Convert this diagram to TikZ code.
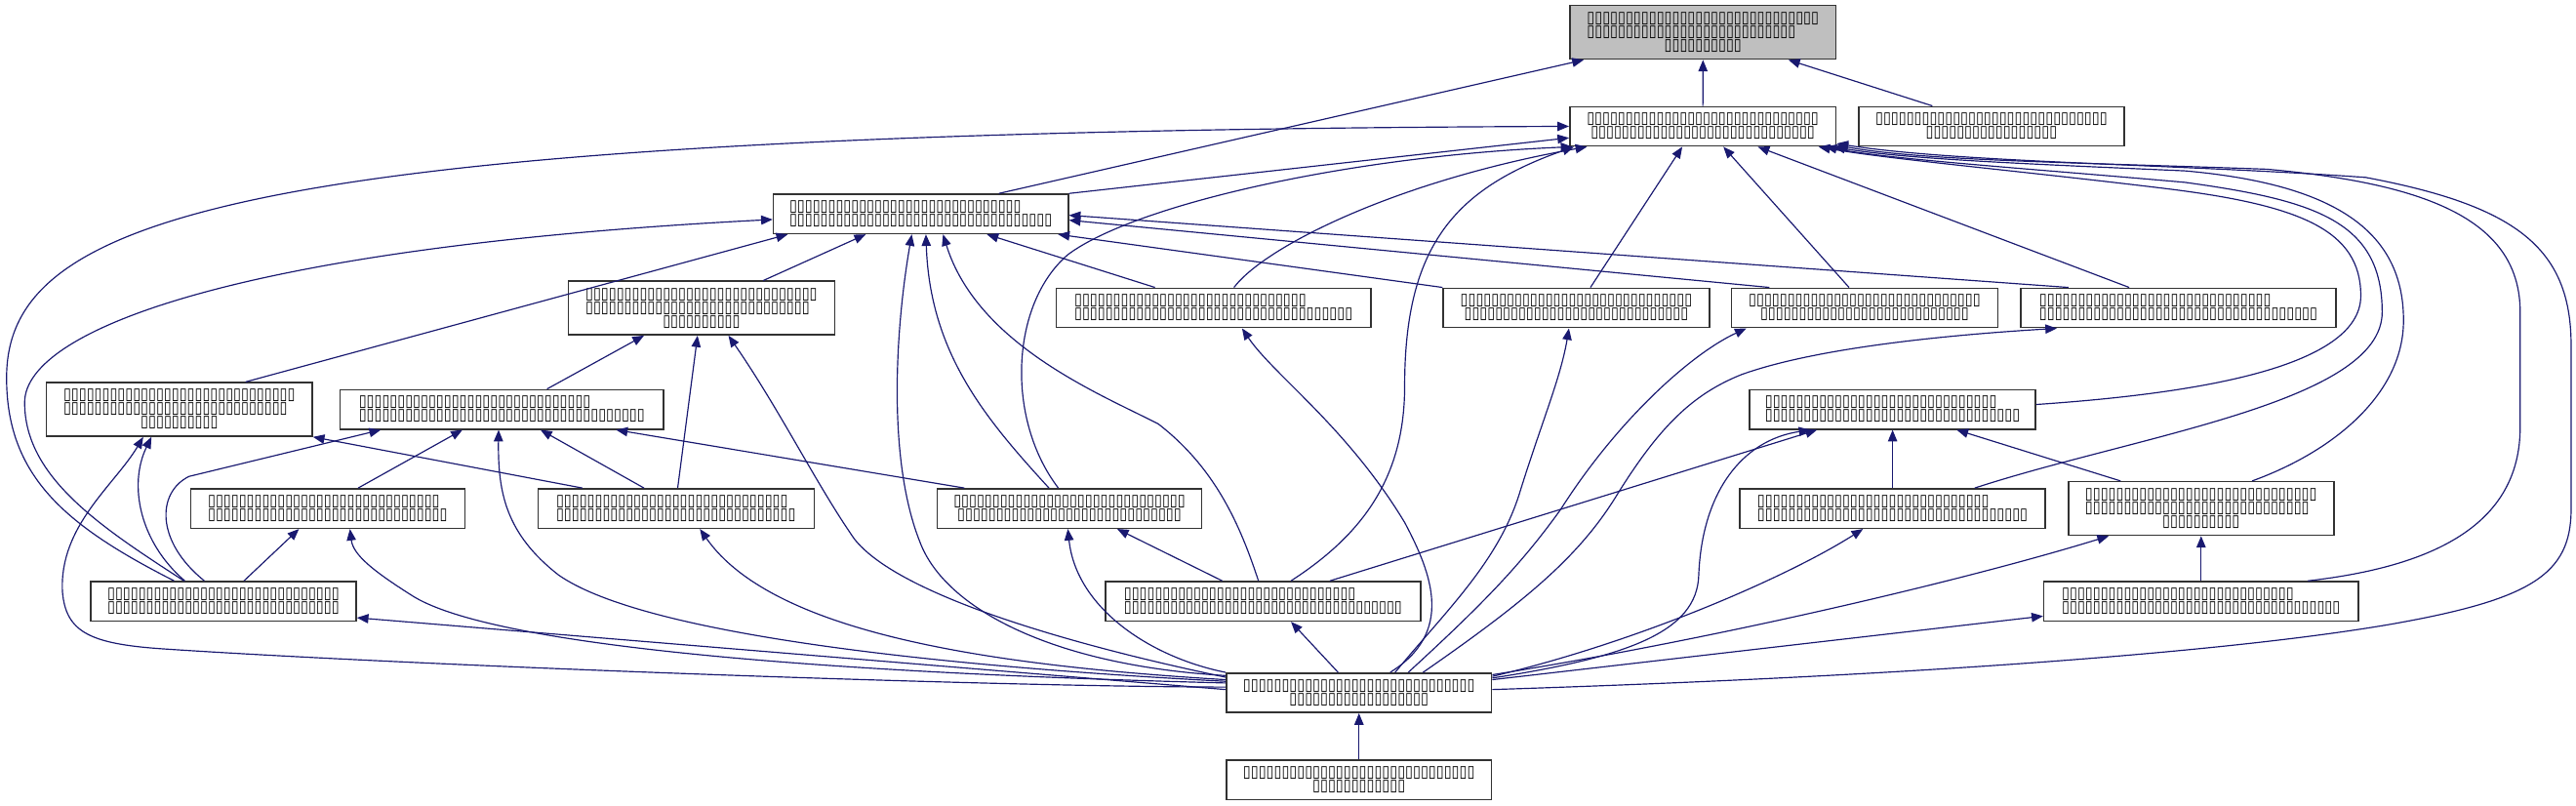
\documentclass[tikz,border=0pt]{standalone}
\usepackage{fontspec}
\newfontfamily\tofufont[FakeStretch=0.855]{DejaVu Sans}
\usetikzlibrary{arrows.meta}
\definecolor{AristaAzul}{RGB}{25,25,112}
\definecolor{BordeGris}{RGB}{50,50,50}
\definecolor{RaizGris}{RGB}{191,191,191}
\newcommand{\glyphs}[1]{\foreach \g in {1,...,#1}{▯}}
\newcommand{\gline}[2]{\glyphs{#1}\hphantom{\glyphs{#2}}}

\begin{document}
\begin{tikzpicture}[x=1pt, y=-1pt,
	caja/.style={draw=BordeGris, line width=0.9pt, fill=white, inner sep=0pt,
		minimum height=24pt, align=center,
		font=\tofufont\fontsize{10pt}{8.3pt}\selectfont},
	alta/.style={caja, minimum height=32.6pt},
	raiz/.style={alta, fill=RaizGris},
	arista/.style={AristaAzul, line width=0.7pt,
		-{Triangle[length=7pt, width=5.6pt]}}]

	\useasboundingbox (0,0) rectangle (1568,490);

	% archivos, de arriba abajo
	\node[raiz, minimum width=162pt] (a) at (1036.6,19.7) {\glyphs{30}\\\gline{27}{3}\\\glyphs{10}};
	\node[caja, minimum width=162pt] (b) at (1036.5,76.9) {\glyphs{30}\\\glyphs{29}};
	\node[caja, minimum width=161.5pt] (c) at (1212.2,76.9) {\glyphs{30}\\\glyphs{17}};
	\node[caja, minimum width=179.5pt] (d) at (560.5,130.2) {\gline{30}{4}\\\glyphs{34}};
	\node[alta, minimum width=162pt] (e) at (427,187.5) {\glyphs{30}\\\gline{29}{1}\\\glyphs{10}};
	\node[caja, minimum width=191.5pt] (f) at (738.7,187.4) {\gline{30}{6}\\\glyphs{36}};
	\node[caja, minimum width=162pt] (g) at (959.5,187.4) {\glyphs{30}\\\glyphs{29}};
	\node[caja, minimum width=162pt] (h) at (1135,187.4) {\glyphs{30}\\\glyphs{27}};
	\node[caja, minimum width=192pt] (i) at (1326,187.4) {\gline{30}{6}\\\glyphs{36}};
	\node[alta, minimum width=161.7pt] (j) at (109.2,249.2) {\glyphs{30}\\\gline{29}{1}\\\glyphs{10}};
	\node[caja, minimum width=197pt] (k) at (305.5,249.2) {\gline{30}{7}\\\glyphs{37}};
	\node[caja, minimum width=174pt] (l) at (1152,249.2) {\gline{30}{3}\\\glyphs{33}};
	\node[caja, minimum width=167pt] (m) at (199.5,309.5) {\gline{30}{1}\\\glyphs{31}};
	\node[caja, minimum width=168pt] (n) at (411.5,309.5) {\gline{30}{1}\\\glyphs{31}};
	\node[caja, minimum width=161pt] (o) at (651,309.5) {\glyphs{30}\\\glyphs{29}};
	\node[caja, minimum width=186pt] (p) at (1152,309.5) {\gline{30}{5}\\\glyphs{35}};
	\node[alta, minimum width=161.5pt] (q) at (1339.8,309.5) {\glyphs{30}\\\gline{29}{1}\\\glyphs{10}};
	\node[caja, minimum width=161.6pt] (r) at (136,366) {\glyphs{30}\\\glyphs{30}};
	\node[caja, minimum width=192pt] (s) at (768.8,366) {\gline{30}{6}\\\glyphs{36}};
	\node[caja, minimum width=191.5pt] (t) at (1339.8,366) {\gline{30}{6}\\\glyphs{36}};
	\node[caja, minimum width=161.5pt] (u) at (827.2,421.7) {\glyphs{30}\\\glyphs{18}};
	\node[caja, minimum width=161.5pt] (v) at (827.2,474.6) {\glyphs{30}\\\glyphs{12}};

	% inclusiones rectas: origen/dx/dy/destino/dx/dy
	\foreach \s/\sx/\sy/\t/\tx/\ty in {b.north/0/0/a.south/0/0,
		c.north/-36/0/a.south/52/0,
		d.north/47.5/0/a.south/-72.6/0,
		d.north east/0/0/b.west/0/-7,
		j.north/40.3/0/d.south/-81/0,
		e.north/37.6/0/d.south/-33.5/0,
		f.north/-35.7/0/d.south/40.2/0,
		g.north west/0/0/d.south/83.5/0,
		h.north/-58/0/d.east/0/-3.8,
		i.north/-67/0/d.east/0/-0.8,
		k.north/27.5/0/e.south/-35/0,
		n.north/1/0/e.south/-2.4/0,
		n.north/-57/0/j.south east/0/0,
		m.north/18.5/0/k.south/-24/0,
		n.north/-19.5/0/k.south/23.5/0,
		o.north/-64/0/k.south/69.5/0,
		r.north/12.5/0/m.south/-17.5/0,
		u.west/0/2/r.east/0/-10,
		s.north/-24.8/0/o.south/29/0,
		g.north/8.6/0/b.south/-12.5/0,
		h.north/-9.5/0/b.south/12.5/0,
		i.north/-30/0/b.south/33.5/0,
		s.north/40.7/0/l.south/-46/0,
		p.north/0/0/l.south/0/0,
		q.north/-49/0/l.south/39/0,
		t.north/0/0/q.south/0/0,
		u.east/0/8/t.west/0/-9,
		u.north/-12.7/0/s.south/17/0,
		v.north/0/0/u.south/0/0}{
		\draw[arista] ([xshift=\sx pt, yshift=\sy pt]\s) -- ([xshift=\tx pt, yshift=\ty pt]\t);
	}

	% por la izquierda
	\draw[arista] ([xshift=-30pt]r.north) .. controls (40,320) and (4,290) .. (4,230)
		.. controls (4,130) and (150,80) .. (b.west);
	\draw[arista] ([xshift=-24pt]r.north) .. controls (60,320) and (15,290) .. (15,245)
		.. controls (15,200) and (150,150) .. ([yshift=-3.4pt]d.west);
	\draw[arista] ([xshift=-23.5pt]r.north) .. controls (85,330) and (78,295) .. ([xshift=-17pt]j.south);
	\draw[arista] ([xshift=-11.6pt]r.north) .. controls (95,330) and (95,300) .. (115,290)
		-- ([xshift=-73.7pt]k.south);
	\draw[arista] ([yshift=3.5pt]u.west) .. controls (600,418) and (250,405) .. (100,395)
		.. controls (55,392) and (40,385) .. (38,360)
		.. controls (36,320) and (70,295) .. ([xshift=-22pt]j.south);
	\draw[arista] ([yshift=6pt]u.west) .. controls (520,410) and (300,395) .. (250,362)
		.. controls (228,348) and (215,338) .. ([xshift=13.5pt]m.south);
	\draw[arista] ([yshift=7pt]u.west) .. controls (560,405) and (390,385) .. (340,350)
		.. controls (308,325) and (303,300) .. ([xshift=-2pt]k.south);
	\draw[arista] ([yshift=8pt]u.west) .. controls (600,405) and (470,385) .. ([xshift=14.5pt]n.south);
	\draw[arista] ([yshift=9.5pt]u.west) .. controls (640,390) and (545,360) .. (520,328)
		.. controls (497,295) and (475,250) .. ([xshift=16.4pt]e.south);
	\draw[arista] ([yshift=10.5pt]u.west) .. controls (640,405) and (575,370) .. (560,330)
		.. controls (540,280) and (545,200) .. ([xshift=-5.5pt]d.south);
	\draw[arista] (u.north west) .. controls (700,400) and (655,370) .. ([xshift=-1pt]o.south);

	% centro
	\draw[arista] ([xshift=-12.5pt]o.north) .. controls (600,255) and (566,215) .. ([xshift=3.1pt]d.south);
	\draw[arista] ([xshift=-6.8pt]o.north) .. controls (612,255) and (615,185) .. (650,155)
		.. controls (690,125) and (820,95) .. ([xshift=2pt]b.south west);
	\draw[arista] ([xshift=-2.8pt]s.north) .. controls (755,320) and (740,285) .. (705,258)
		.. controls (670,240) and (595,210) .. ([xshift=13.5pt]d.south);
	\draw[arista] ([xshift=17pt]s.north) .. controls (830,325) and (855,290) .. (855,235)
		.. controls (855,150) and (885,115) .. ([xshift=3pt]b.south west);
	\draw[arista] ([xshift=12.4pt]f.north) .. controls (770,150) and (850,110) .. ([xshift=-70.5pt]b.south);
	\draw[arista] ([xshift=19pt]u.north) .. controls (885,385) and (872,350) .. (855,318)
		.. controls (820,260) and (775,228) .. ([xshift=17.3pt]f.south);
	\draw[arista] ([xshift=22pt]u.north) .. controls (880,372) and (912,342) .. (925,300)
		.. controls (938,258) and (950,230) .. ([xshift=-4.5pt]g.south);
	\draw[arista] ([xshift=30pt]u.north) .. controls (900,370) and (925,345) .. (950,310)
		.. controls (985,255) and (1030,215) .. ([xshift=-72pt]h.south);
	\draw[arista] ([xshift=39pt]u.north) .. controls (930,365) and (962,338) .. (985,300)
		.. controls (1010,260) and (1030,240) .. (1060,228)
		.. controls (1110,210) and (1200,203) .. ([xshift=-74pt]i.south);
	\draw[arista] ([yshift=9pt]u.east) .. controls (990,400) and (1033,385) .. (1034,350)
		.. controls (1036,300) and (1060,268) .. ([xshift=-50pt]l.south);
	\draw[arista] ([yshift=10pt]u.east) .. controls (1000,390) and (1090,350) .. ([xshift=-18pt]p.south);
	\draw[arista] ([yshift=11pt]u.east) .. controls (1050,388) and (1200,352) .. ([xshift=-56.2pt]q.south);

	% por la derecha, hasta b
	\draw[arista] ([yshift=3pt]l.east) .. controls (1330,240) and (1437,225) .. (1437,180)
		.. controls (1437,140) and (1400,125) .. (1320,115)
		.. controls (1230,104) and (1150,97) .. ([xshift=-11pt]b.south east);
	\draw[arista] ([xshift=50pt]p.north) .. controls (1300,265) and (1450,245) .. (1450,190)
		.. controls (1450,135) and (1410,122) .. (1330,111)
		.. controls (1240,103) and (1150,97) .. ([xshift=-7pt]b.south east);
	\draw[arista] ([xshift=31pt]q.north) .. controls (1420,275) and (1463,240) .. (1463,195)
		.. controls (1463,140) and (1420,112) .. (1330,104)
		.. controls (1240,100) and (1160,97) .. ([xshift=-2pt]b.south east);
	\draw[arista] ([xshift=65pt]t.north) .. controls (1480,345) and (1534,320) .. (1534,260)
		-- (1534,190) .. controls (1534,135) and (1480,112) .. (1380,103)
		.. controls (1270,99) and (1170,98) .. ([yshift=1pt]b.south east);
	\draw[arista] ([yshift=2pt]u.east) .. controls (1150,412) and (1350,398) .. (1455,380)
		.. controls (1540,365) and (1565,350) .. (1565,310) -- (1565,210)
		.. controls (1565,150) and (1530,125) .. (1440,108)
		.. controls (1330,100) and (1190,99) .. ([yshift=2pt]b.south east);
\end{tikzpicture}
\end{document}
